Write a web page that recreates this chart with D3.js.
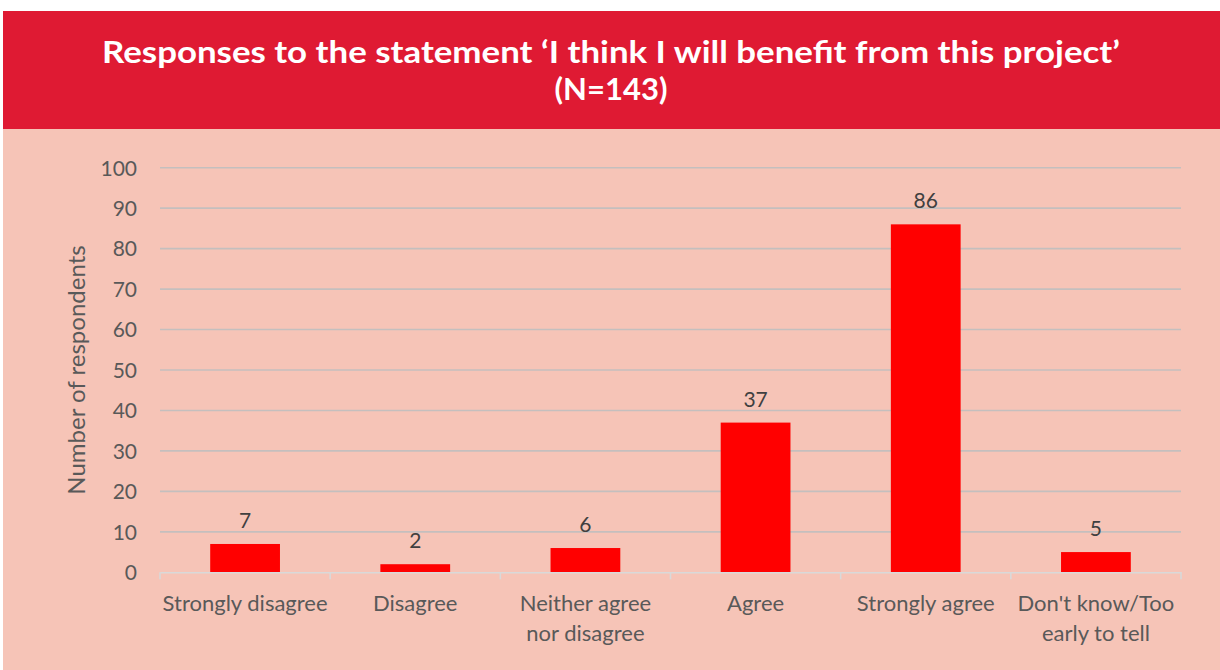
<!DOCTYPE html>
<html>
<head>
<meta charset="utf-8">
<script src="https://cdn.jsdelivr.net/npm/d3@7/dist/d3.min.js"></script>
<style>
  html, body { margin: 0; padding: 0; background: #ffffff; }
  svg { display: block; }
</style>
</head>
<body>
<svg id="chart" width="1220" height="670"></svg>
<script>
// Survey responses
const categories = [
  ["Strongly disagree"],
  ["Disagree"],
  ["Neither agree", "nor disagree"],
  ["Agree"],
  ["Strongly agree"],
  ["Don't know/Too", "early to tell"]
];
const responses = [7, 2, 6, 37, 86, 5];
const yTicks = [0, 10, 20, 30, 40, 50, 60, 70, 80, 90, 100];
const titleLines = [
  "Responses to the statement \u2018I think I will benefit from this project\u2019",
  "(N=143)"
];
const yAxisLabel = "Number of respondents";

(function () {
const W = 1220, H = 670;
const svg = d3.select("#chart");
const font = "Lato, 'Open Sans', sans-serif";

// Panel backgrounds
svg.append("rect").attr("x", 3).attr("y", 129).attr("width", W - 3).attr("height", H - 129)
  .attr("fill", "#F6C4B7");
svg.append("rect").attr("x", 3).attr("y", 11).attr("width", W - 3).attr("height", 118)
  .attr("fill", "#DF1A33");

// Title
svg.append("text")
  .attr("x", 611).attr("y", 63)
  .attr("text-anchor", "middle")
  .attr("font-family", font).attr("font-weight", 700).attr("font-size", 31)
  .attr("fill", "#ffffff")
  .attr("textLength", 1018).attr("lengthAdjust", "spacingAndGlyphs")
  .text(titleLines[0]);
svg.append("text")
  .attr("x", 611).attr("y", 100)
  .attr("text-anchor", "middle")
  .attr("font-family", font).attr("font-weight", 700).attr("font-size", 31)
  .attr("fill", "#ffffff")
  .text(titleLines[1]);

// Plot area
const pLeft = 160, pRight = 1181, pTop = 167.7, pBottom = 572.3;
const x = d3.scaleBand().domain(d3.range(categories.length)).range([pLeft, pRight])
  .paddingInner(0.59).paddingOuter(0.295);
const band = d3.scaleBand().domain(d3.range(categories.length)).range([pLeft, pRight]);
const y = d3.scaleLinear().domain([0, 100]).range([pBottom, pTop]);

const g = svg.append("g");

// Gridlines
g.selectAll("line.grid").data(yTicks.filter(t => t > 0)).join("line")
  .attr("class", "grid")
  .attr("x1", pLeft).attr("x2", pRight)
  .attr("y1", d => y(d)).attr("y2", d => y(d))
  .attr("stroke", "#C4BFBE").attr("stroke-width", 1.6);

// Y axis tick labels
const yAxis = d3.axisLeft(y).tickValues(yTicks).tickSize(0).tickPadding(0);
const yg = g.append("g").attr("transform", `translate(${pLeft - 23},0)`).call(yAxis);
yg.select(".domain").remove();
yg.selectAll("text")
  .attr("font-family", font).attr("font-size", 21).attr("fill", "#595959")
  .attr("dy", "0.35em");

// Bars
g.selectAll("rect.bar").data(responses).join("rect")
  .attr("class", "bar")
  .attr("x", (d, i) => x(i)).attr("width", x.bandwidth())
  .attr("y", d => y(d)).attr("height", d => y(0) - y(d))
  .attr("fill", "#FF0000");

// X axis line and ticks
const xAxis = d3.axisBottom(band).tickValues([]).tickSizeOuter(0);
const xg = g.append("g").attr("transform", `translate(0,${pBottom})`).call(xAxis);
xg.select(".domain").attr("stroke", "#D9D9D9").attr("stroke-width", 1.6);
const tickPos = d3.range(categories.length + 1).map(i => pLeft + i * band.step());
xg.selectAll("line.tk").data(tickPos).join("line")
  .attr("class", "tk")
  .attr("x1", d => d).attr("x2", d => d)
  .attr("y1", 0).attr("y2", 7)
  .attr("stroke", "#D9D9D9").attr("stroke-width", 1.6);

// Value labels
g.selectAll("text.val").data(responses).join("text")
  .attr("class", "val")
  .attr("x", (d, i) => x(i) + x.bandwidth() / 2)
  .attr("y", d => y(d) - 16)
  .attr("text-anchor", "middle")
  .attr("font-family", font).attr("font-size", 21).attr("fill", "#404040")
  .text(d => d);

// Category labels
const cl = g.selectAll("text.cat").data(categories).join("text")
  .attr("class", "cat")
  .attr("text-anchor", "middle")
  .attr("font-family", font).attr("font-size", 22).attr("fill", "#595959");
cl.each(function(lines, i) {
  const t = d3.select(this);
  lines.forEach((ln, k) => {
    t.append("tspan")
      .attr("x", band(i) + band.bandwidth() / 2)
      .attr("y", 611 + k * 30)
      .text(ln);
  });
});

// Y axis title
svg.append("text")
  .attr("transform", "translate(85,370) rotate(-90)")
  .attr("text-anchor", "middle")
  .attr("font-family", font).attr("font-size", 24).attr("fill", "#595959")
  .text(yAxisLabel);
})();
</script>
</body>
</html>
